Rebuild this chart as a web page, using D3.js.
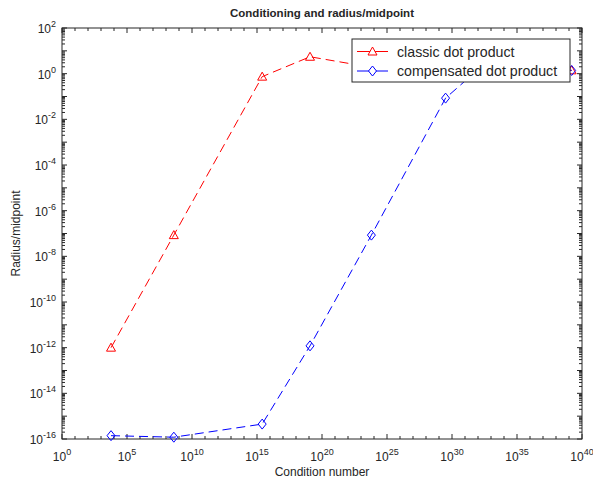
<!DOCTYPE html>
<html>
<head>
<meta charset="utf-8">
<script src="https://cdn.jsdelivr.net/npm/d3@7"></script>
<style>
  html, body { margin: 0; padding: 0; background: #fff; }
  text { font-family: "Liberation Sans", Arial, Helvetica, sans-serif; fill: #262626; }
</style>
</head>
<body>
<svg id="chart" width="593" height="478"></svg>
<script>
// ---- data ----
const conditionNumbers = [5.9e3, 4e8, 2.5e15, 1.2e19, 6.3e23, 3.2e29, 1e34, 1.6e39];
const classicDot = [1e-12, 8.5e-8, 0.74, 5.5, 1.9, 1.5, 1.45, 1.4];
const compensatedDot = [1.4e-16, 1.2e-16, 4.5e-16, 1.2e-12, 8.5e-8, 0.085, 15, 1.38];
const xTickExps = [0, 5, 10, 15, 20, 25, 30, 35, 40];
const yTickExps = [2, 0, -2, -4, -6, -8, -10, -12, -14, -16];
const seriesNames = ["classic dot product", "compensated dot product"];

const svg = d3.select("#chart");
const L = 62, R = 582, T = 28, B = 439;
const axisColor = "#262626";

const x = d3.scaleLog().domain([1, 1e40]).range([L, R]);
const y = d3.scaleLog().domain([1e-16, 1e2]).range([B, T]);

// ---- ticks ----
const g = svg.append("g");
for (let k = 0; k <= 40; k++) {
  const px = x(Math.pow(10, k));
  const len = (k % 5 === 0) ? 5 : 3;
  g.append("line").attr("x1", px).attr("x2", px).attr("y1", B).attr("y2", B - len)
    .attr("stroke", axisColor).attr("stroke-width", 1);
  g.append("line").attr("x1", px).attr("x2", px).attr("y1", T).attr("y2", T + len)
    .attr("stroke", axisColor).attr("stroke-width", 1);
}
for (let k = -16; k <= 2; k++) {
  for (let m = 1; m <= 9; m++) {
    if (k === 2 && m > 1) break;
    const v = m * Math.pow(10, k);
    const py = y(v);
    const len = (m === 1) ? 5 : 3;
    g.append("line").attr("x1", L).attr("x2", L + len).attr("y1", py).attr("y2", py)
      .attr("stroke", axisColor).attr("stroke-width", 1);
    g.append("line").attr("x1", R).attr("x2", R - len).attr("y1", py).attr("y2", py)
      .attr("stroke", axisColor).attr("stroke-width", 1);
  }
}

svg.append("rect").attr("x", L).attr("y", T).attr("width", R - L).attr("height", B - T)
  .attr("fill", "none").attr("stroke", axisColor).attr("stroke-width", 1);

xTickExps.forEach(e => {
  const t = svg.append("text").attr("x", x(Math.pow(10, e))).attr("y", 461)
    .attr("text-anchor", "middle").attr("font-size", 12);
  t.append("tspan").text("10");
  t.append("tspan").attr("dy", -6).attr("font-size", 9).text(String(e));
});
yTickExps.forEach(e => {
  const t = svg.append("text").attr("x", 56).attr("y", y(Math.pow(10, e)) + 5)
    .attr("text-anchor", "end").attr("font-size", 12);
  t.append("tspan").text("10");
  t.append("tspan").attr("dy", -6).attr("font-size", 9).text(String(e));
});

svg.append("text").attr("x", (L + R) / 2).attr("y", 476).attr("text-anchor", "middle")
  .attr("font-size", 12).text("Condition number");
svg.append("text").attr("transform", `translate(20,${(T + B) / 2}) rotate(-90)`)
  .attr("text-anchor", "middle").attr("font-size", 12).text("Radius/midpoint");
svg.append("text").attr("x", (L + R) / 2).attr("y", 17).attr("text-anchor", "middle")
  .attr("font-size", 11.5).attr("font-weight", "bold").attr("fill", "#000").text("Conditioning and radius/midpoint");

// ---- series ----
const line = d3.line().x(d => x(d[0])).y(d => y(d[1]));
const triPath = "M0,-4.5L4.5,3.5L-4.5,3.5Z";
const diaPath = "M0,-5L4,0L0,5L-4,0Z";

const series = [
  { name: seriesNames[0], values: classicDot, color: "#ff0000", marker: triPath },
  { name: seriesNames[1], values: compensatedDot, color: "#0000ff", marker: diaPath }
];

series.forEach(s => {
  const pts = conditionNumbers.map((c, i) => [c, s.values[i]]);
  svg.append("path").datum(pts).attr("d", line).attr("fill", "none")
    .attr("stroke", s.color).attr("stroke-width", 1).attr("stroke-dasharray", "9,5");
  svg.selectAll(null).data(pts).enter().append("path")
    .attr("d", s.marker)
    .attr("transform", d => `translate(${x(d[0])},${y(d[1])})`)
    .attr("fill", "none").attr("stroke", s.color).attr("stroke-width", 1);
});

// ---- legend ----
const lg = svg.append("g");
lg.append("rect").attr("x", 352).attr("y", 39).attr("width", 218).attr("height", 43)
  .attr("fill", "#fff").attr("stroke", axisColor).attr("stroke-width", 1);
series.forEach((s, i) => {
  const ly = 51.5 + i * 19.5;
  lg.append("line").attr("x1", 357).attr("x2", 388).attr("y1", ly).attr("y2", ly)
    .attr("stroke", s.color).attr("stroke-width", 1);
  lg.append("path").attr("d", s.marker).attr("transform", `translate(372.5,${ly})`)
    .attr("fill", "#fff").attr("stroke", s.color).attr("stroke-width", 1);
  lg.append("text").attr("x", 397).attr("y", ly + 5).attr("font-size", 14.2).attr("fill", "#000").text(s.name);
});
</script>
</body>
</html>
